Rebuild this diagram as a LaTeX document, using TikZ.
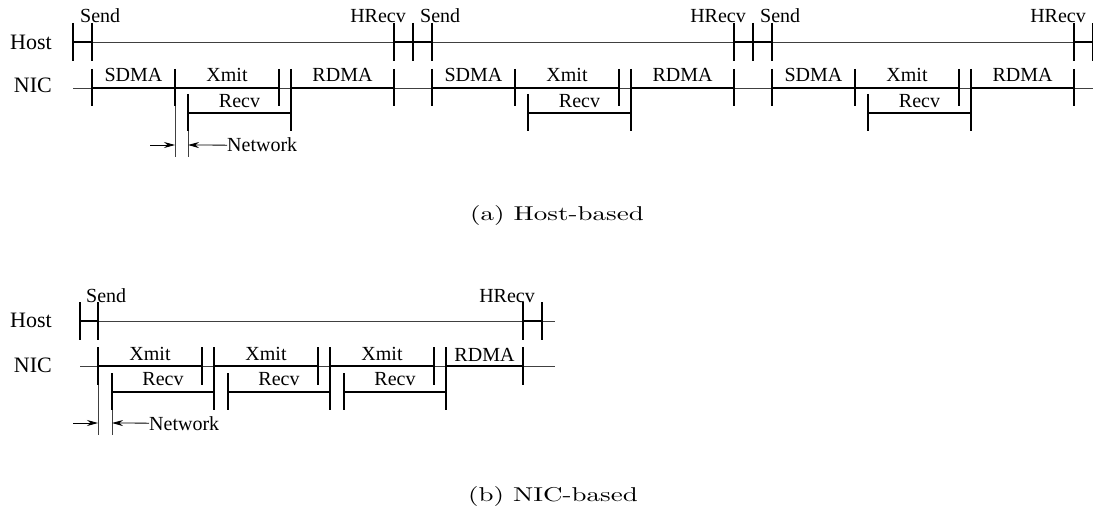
\documentclass[tikz,border=0pt]{standalone}
\usepackage{fontspec}
\newfontfamily\timesfont{Liberation Serif}
\usetikzlibrary{positioning, arrows.meta}
\tikzset{>=latex}
\tikzset{
    axisline/.style={line width=0.9pt, black!75},
    busy/.style={line width=2.6pt},
    lbl/.style={font=\timesfont\fontsize{20}{24}\selectfont, inner sep=0pt},
    rowlbl/.style={font=\timesfont\fontsize{22}{26}\selectfont, inner sep=0pt, anchor=base east},
    netarr/.style={line width=0.8pt, -{Stealth[length=11pt, width=6pt]}},
    caption/.style={inner sep=0pt}
}

\begin{document}
\begin{tikzpicture}[x=1pt, y=-1pt]
    \useasboundingbox (0,0) rectangle (1093,508);

    % (a) host-based
    \node[rowlbl] (hosta) at (52,50) {Host};
    \node[rowlbl] (nica) at (52,93) {NIC};
    \draw[axisline] (73,42) -- (1093,42);
    \draw[axisline] (73,88) -- (1093,88);

    \foreach \h in {73,413,753,1093}
        \draw[busy] (\h,23) -- (\h,61);
    \foreach \p in {92,432,772} {
        % host
        \draw[busy] (\p,23) -- (\p,61) (\p-19,42) -- (\p,42);
        \draw[busy] (\p+302,23) -- (\p+302,61) (\p+302,42) -- (\p+321,42);
        \node[lbl, anchor=base west] (send\p) at (\p-12,23) {Send};
        \node[lbl, anchor=base east] (hrecv\p) at (\p+314,23) {HRecv};
        % nic
        \draw[busy]
            (\p,69) -- (\p,106)
            (\p+83,69) -- (\p+83,106)
            (\p+187,69) -- (\p+187,106)
            (\p+302,69) -- (\p+302,106)
            (\p+199,69) -- (\p+199,131)
            (\p,88) -- (\p+187,88)
            (\p+199,88) -- (\p+302,88)
            (\p+96,94) -- (\p+96,131)
            (\p+96,113) -- (\p+199,113)
            ;
        \node[lbl, anchor=base] (sdma\p) at (\p+41.5,82) {SDMA};
        \node[lbl, anchor=base] (xmit\p) at (\p+135,82) {Xmit};
        \node[lbl, anchor=base] (recv\p) at (\p+147.5,108) {Recv};
        \node[lbl, anchor=base] (rdma\p) at (\p+250.5,82) {RDMA};
    }

    % network delay (a)
    \coordinate (txa) at (175,145);
    \coordinate (rxa) at (188,145);
    \coordinate (ina) at (150,145);
    \node[lbl, anchor=base west] (neta) at (227,152) {Network};
    \draw[axisline] (175,106) -- (175,157) (188,131) -- (188,157);
    \draw[netarr] (ina) -- (txa);
    \draw[netarr] (neta.west) -- (rxa);

    \node[caption] (capa) at (557,215) {\scalebox{2.7}[2.0]{(a) Host-based}};

    % (b) NIC-based
    \node[rowlbl] (hostb) at (52,327) {Host};
    \node[rowlbl] (nicb) at (52,372) {NIC};
    \draw[axisline] (80,321) -- (555,321);
    \draw[axisline] (80,366) -- (555,366);

    \draw[busy]
        (80,302) -- (80,340)
        (98,302) -- (98,340)
        (523,302) -- (523,340)
        (542,302) -- (542,340)
        (80,321) -- (98,321)
        (523,321) -- (542,321)
        ;
    \node[lbl, anchor=base west] (sendb) at (86,302) {Send};
    \node[lbl, anchor=base east] (hrecvb) at (535,302) {HRecv};

    \foreach \p in {98,214,330} {
        \draw[busy]
            (\p,347) -- (\p,385)
            (\p+104,347) -- (\p+104,385)
            (\p+116,347) -- (\p+116,410)
            (\p,366) -- (\p+104,366)
            (\p+14,373) -- (\p+14,410)
            (\p+14,392) -- (\p+116,392)
            ;
        \node[lbl, anchor=base] (xmitb\p) at (\p+52,360) {Xmit};
        \node[lbl, anchor=base] (recvb\p) at (\p+65,385) {Recv};
    }
    \draw[busy] (446,366) -- (523,366) (523,347) -- (523,385);
    \node[lbl, anchor=base] (rdmab) at (484.5,361) {RDMA};

    % network delay (b)
    \coordinate (txb) at (98,423);
    \coordinate (rxb) at (112,423);
    \coordinate (inb) at (73,423);
    \node[lbl, anchor=base west] (netb) at (149,430) {Network};
    \draw[axisline] (98,385) -- (98,435) (112,410) -- (112,435);
    \draw[netarr] (inb) -- (txb);
    \draw[netarr] (netb.west) -- (rxb);

    \node[caption] (capb) at (553,496) {\scalebox{2.7}[2.0]{(b) NIC-based}};
\end{tikzpicture}
\end{document}
